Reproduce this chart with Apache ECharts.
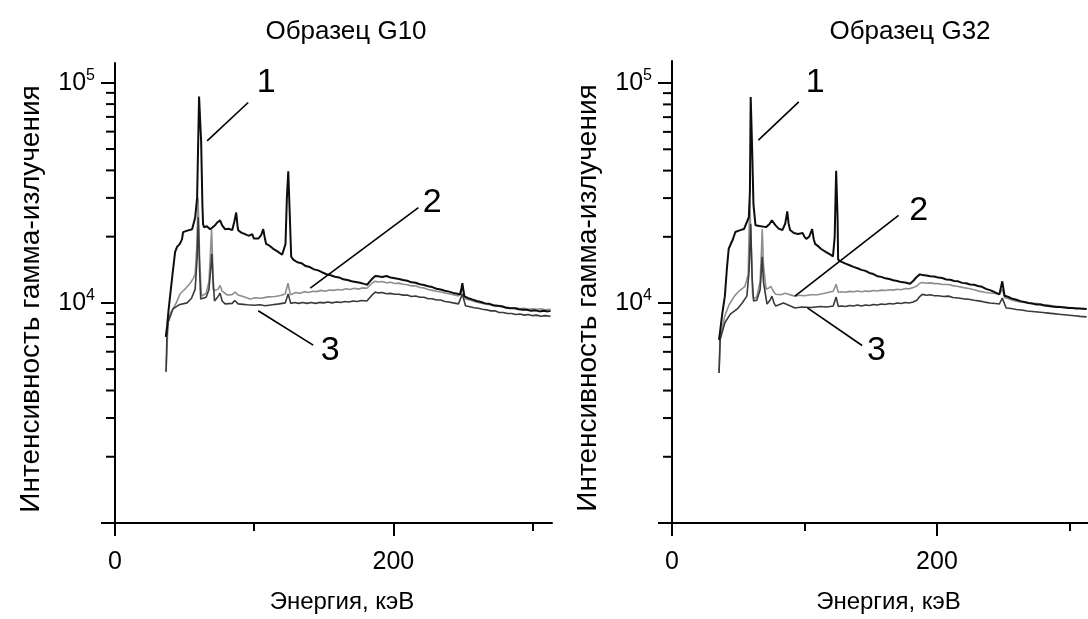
<!DOCTYPE html>
<html><head><meta charset="utf-8">
<script src="https://cdn.jsdelivr.net/npm/echarts@6/dist/echarts.min.js"></script>
<style>html,body{margin:0;padding:0;background:#fff}#c{width:1088px;height:619px}</style>
</head><body><div id="c"></div>
<script>
// ---- texts ----
const titles = ['Образец G10', 'Образец G32'];
const xName = 'Энергия, кэВ';
const yName = 'Интенсивность гамма-излучения';
const curveNames = ['1', '2', '3'];

// ---- axis ticks ----
const xMajorTicks = [0, 200];
const xMinorTicks = [100, 300];
const yMajorTicks = [1000, 10000, 100000];
const yLabelTicks = [10000, 100000];
const yMinorTicks = [2000, 3000, 4000, 5000, 6000, 7000, 8000, 9000,
  20000, 30000, 40000, 50000, 60000, 70000, 80000, 90000];
const xRange = [0, 314];
const yRangeG10 = [1000, 123000];
const yRangeG32 = [1000, 126000];

// ---- G10 spectra [energy keV, intensity] ----
const g10_1 = [[36.5,7000],[37.4,7800],[38.5,9300],[39.6,10750],[41.5,13800],[43.2,17060],[44.6,17970],[46.5,18500],[48.2,19500],[48.9,20970],[52,21300],[55.4,21620],[57.6,24460],[59.0,30000],[60.4,86600],[61.9,54000],[62.8,28000],[63.3,22770],[64.0,22060],[66,22300],[68.3,21620],[70,22000],[71.9,22530],[73.5,23200],[75.5,23710],[77,22500],[79.1,21620],[82,21700],[84.2,21400],[85.8,23500],[87.1,25750],[88.0,22500],[88.5,21400],[91,20800],[93,20600],[95.0,20320],[96.5,20200],[98.6,20530],[99.8,19600],[100.7,19310],[103,19600],[105,20300],[106.5,21620],[107.8,19500],[108.6,18530],[111,18200],[113.7,17600],[117,17100],[120.1,16550],[121.5,16400],[122.5,18500],[123.5,30000],[124.5,39650],[125.5,26000],[126.6,16210],[128.1,15720],
  [131,15300],[134,15150],[137,14700],[140,14550],[143,14200],[146,14050],[149,13750],[152,13500],[155,13350],[158,13150],[161,13050],[164,12800],[167,12700],[170,12550],[173,12450],[176,12350],[179,12200],[181.3,12100],[183,12500],[185,12900],[187,13250],[189,13200],[192,13100],[195,13250],[198,13050],[201,12950],[204,12850],[207,12700],[210,12600],[213,12400],[216,12350],[219,12150],[222,12050],[225,11900],[228,11800],[231,11600],[234,11500],[237,11350],[240,11250],[243,11100],[246,11000],[248.2,10900],[249.6,12280],[251,10700],[254,10500],[257,10350],[260,10200],[263,10100],[266,9950],[269,9900],[272,9750],[275,9700],[278,9650],[281,9500],[284,9450],[287,9450],[290,9350],[293,9300],[296,9300],[299,9200],[302,9250],[305,9150],[308,9200],[311,9150],[313,9200]];
const g10_2 = [[36.7,4870],[37.5,6500],[38.1,8200],[40,9000],[41.7,9400],[44,10000],[46.8,11000],[50,11500],[54,12280],[56.5,13000],[57.6,13610],[58.8,18000],[59.7,30000],[60.8,16000],[62.0,11000],[62.6,10750],[65.5,11080],[67.5,12500],[68.6,17000],[69.4,21620],[70.2,15000],[70.5,11550],[72,11400],[74.1,11550],[75.5,12000],[77,11300],[80.6,10860],[84,10900],[86.3,11200],[88,10900],[92,10700],[97.1,10420],[101,10550],[105,10500],[110,10650],[115,10700],[119,10800],[122.3,10970],[124.3,12280],[126,10900],[127.3,11080],
  [130,11150],[133,11050],[136,11250],[139,11150],[142,11300],[145,11250],[148,11400],[151,11300],[154,11450],[157,11400],[160,11500],[163,11450],[166,11600],[169,11500],[172,11650],[175,11550],[178,11700],[181,11650],[183,12000],[185,12350],[187,12550],[189,12450],[192,12500],[195,12350],[198,12400],[201,12250],[204,12300],[207,12150],[210,12100],[213,11950],[216,11950],[219,11750],[222,11700],[225,11500],[228,11400],[231,11300],[234,11200],[237,11100],[240,11000],[243,10900],[246.8,10750],[249.5,11910],[251.8,10420],[255,10300],[258,10150],[261,10050],[264,9950],[267,9850],[270,9800],[273,9650],[276,9650],[279,9550],[282,9550],[285,9450],[288,9500],[291,9400],[294,9450],[297,9350],[300,9400],[303,9350],[306,9400],[309,9300],[313,9350]];
const g10_3 = [[36.7,4870],[37.3,7000],[38.1,8140],[40,8800],[41.7,9400],[46,9800],[51.8,10000],[55,10500],[57.6,11550],[59.0,16000],[59.8,24460],[60.8,14000],[61.6,10420],[65.5,10600],[67.5,11500],[68.7,14000],[69.6,16720],[70.4,13000],[71.5,10210],[74.1,10700],[75.5,11080],[77,10200],[79.1,9900],[84.2,9950],[86,10250],[88.5,9900],[92,9850],[95,9800],[100,9750],[104,9800],[108,9700],[113,9800],[118,9900],[122.3,10000],[124.4,10970],[126.3,9950],
  [129,10050],[132,9950],[135,10050],[138,9950],[141,10050],[144,9950],[147,10050],[150,10000],[153,10100],[156,10000],[159,10100],[162,10050],[165,10150],[168,10100],[171,10200],[174,10150],[177,10250],[181,10200],[183,10550],[185,10900],[187,11200],[189,11100],[192,11150],[195,11000],[198,11050],[201,10950],[204,10950],[207,10850],[210,10850],[213,10700],[216,10750],[219,10600],[222,10600],[225,10450],[228,10450],[231,10300],[234,10300],[237,10150],[240,10100],[243,10000],[246.8,9900],[249.6,10970],[251.8,9700],[255,9600],[258,9500],[261,9450],[264,9350],[267,9300],[270,9200],[273,9200],[276,9050],[279,9050],[282,8950],[285,8950],[288,8850],[291,8900],[294,8800],[297,8850],[300,8750],[303,8800],[306,8700],[309,8750],[313,8700]];

// ---- G32 spectra [energy keV, intensity] ----
const g32_1 = [[35.5,6800],[36.2,7340],[38,9000],[39.9,10750],[41.5,14500],[42.8,17650],[44.2,18010],[46,19500],[47.8,21030],[51,21400],[54.3,21690],[58.0,24550],[58.8,32000],[59.4,86500],[60.5,50000],[61.5,28000],[63,22600],[66,22400],[71,22140],[73.5,22800],[75.4,23800],[78,22600],[80.5,21800],[83.3,21470],[85.5,23000],[87,26120],[88,23000],[89.1,21470],[92,20800],[95,20600],[98.6,20810],[100,20000],[101.4,19560],[103.5,20000],[105.8,21690],[107,19500],[108,18580],[110,18200],[112.3,17650],[116,17100],[119.6,16590],[121.5,16300],[122.8,20000],[123.9,39900],[125,24000],[125.4,15750],
  [128,15400],[131,15100],[134,14850],[137,14600],[140,14400],[143,14150],[146,14000],[149,13700],[152,13550],[155,13250],[158,13150],[161,12950],[164,12850],[167,12700],[170,12600],[173,12450],[176,12400],[179.7,12250],[182,12600],[184.5,13100],[187,13500],[189,13400],[192,13350],[195,13250],[198,13200],[201,13050],[204,13000],[207,12800],[210,12750],[213,12600],[216,12550],[219,12350],[222,12300],[225,12150],[228,12100],[231,11950],[234,11850],[237,11600],[240,11450],[243,11250],[247.1,10950],[249.3,12550],[251,10800],[254,10650],[257,10450],[260,10350],[263,10200],[266,10100],[269,10000],[272,9950],[275,9850],[278,9850],[281,9750],[284,9700],[287,9650],[290,9600],[293,9600],[296,9550],[299,9500],[302,9500],[305,9450],[308,9450],[313,9400]];
const g32_2 = [[35.5,4810],[36.5,7000],[39.9,8740],[43,9800],[47.1,10750],[51,11400],[55.1,11920],[57.5,13500],[58.7,29270],[59.8,18000],[60.8,11000],[61.6,10420],[64,10700],[66.5,12500],[67.5,17000],[68.1,21690],[69,15000],[71,11560],[73,11700],[74.6,11920],[76.5,11300],[78.3,10970],[82,10900],[85.5,11090],[88,10950],[92.8,10750],[96,10850],[100,10800],[105,10900],[110,10900],[116,11100],[121.7,11320],[123.9,12170],[125.5,11200],
  [128,11250],[131,11200],[134,11300],[137,11250],[140,11350],[143,11250],[146,11350],[149,11300],[152,11400],[155,11350],[158,11450],[161,11400],[164,11500],[167,11450],[170,11550],[173,11500],[176,11650],[179,11600],[182,11750],[184.8,11950],[187,12300],[189,12400],[192,12300],[195,12350],[198,12250],[201,12250],[204,12150],[208.7,12150],[212,12000],[216,11900],[220,11750],[224,11650],[228,11500],[232.6,11300],[236,11200],[240,11100],[244,11050],[247.1,10950],[249.3,11560],[251,10600],[254,10450],[257,10300],[260,10200],[264,10100],[268,10050],[272,9950],[276,9950],[280,9850],[284,9800],[288,9700],[292,9650],[296,9600],[300,9550],[304,9500],[308,9450],[313,9400]];
const g32_3 = [[35.5,4810],[36.3,6800],[39.9,8135],[44,8900],[49.3,9400],[53,10000],[56.5,10750],[58.2,14000],[59.4,22850],[60.5,13000],[61.6,10210],[64,10300],[66.5,11500],[67.4,14000],[68.1,16240],[69,12500],[71.7,9900],[74,10300],[75.4,10750],[77,10000],[78.3,9690],[84.1,10000],[86,9900],[92.8,9500],[98,9600],[105,9550],[112,9650],[117,9600],[121.7,9690],[123.9,10640],[125.5,9650],
  [128,9700],[131,9650],[134,9750],[137,9700],[140,9800],[143,9700],[146,9800],[149,9750],[152,9850],[155,9800],[158,9900],[161,9850],[164,9950],[167,9900],[170,10000],[173,9950],[176,10050],[179,10000],[182,10100],[184.8,10300],[187,10700],[189,10950],[192,10850],[195,10900],[198,10800],[201,10800],[205,10700],[208.7,10750],[212,10600],[216,10550],[220,10450],[224,10400],[228,10300],[232.6,10200],[236,10100],[240,10000],[244,9950],[247.1,9900],[249.3,10530],[252.2,9500],[256,9450],[260,9350],[264,9300],[268,9200],[272,9150],[276,9100],[280,9050],[284,9000],[288,8950],[292,8900],[296,8850],[300,8800],[304,8750],[308,8700],[313,8650]];

// ---- annotation anchors (data coords) ----
const g10LabelPos = [[108.6,100000],[228,28500],[154.7,6040]];
const g10Leaders = [[[95.7,81400],[66.2,54500]],[[218,27100],[140.3,11670]],[[142.4,6430],[102.9,9210]]];
const g32LabelPos = [[108,100000],[186.2,26400],[154.3,6090]];
const g32Leaders = [[[95.7,82200],[65.2,55000]],[[171,25060],[92.8,10750]],[[143.5,6410],[102.2,9500]]];

const FONT = 'Liberation Sans, Arial, Helvetica, sans-serif';
const grids = [
  {left:115, top:63, width:437, height:469},
  {left:672, top:61, width:433, height:469}
];
const titleCenters = [341, 905];
const yRanges = [yRangeG10, yRangeG32];
const panels = [[g10_2, g10_3, g10_1], [g32_2, g32_3, g32_1]];
const labelPos = [g10LabelPos, g32LabelPos];
const leaders = [g10Leaders, g32Leaders];
const curveColors = ['#8e8e8e', '#3a3a3a', '#0d0d0d'];
const curveWidths = [1.6, 1.6, 2];
const curveIdx = [1, 2, 0];

const xAxis = [], yAxis = [], series = [], title = [];
for (let g = 0; g < 2; g++) {
  title.push({text: titles[g], left: titleCenters[g], top: 14, textAlign: 'center',
    textStyle: {fontFamily: FONT, fontSize: 26, fontWeight: 'normal', color: '#000'}});
  xAxis.push({
    type:'value', gridIndex:g, min:xRange[0], max:xRange[1], position:'bottom',
    axisLine:{show:true, onZero:false, lineStyle:{color:'#000', width:2}},
    axisTick:{show:true, length:13, lineStyle:{color:'#000', width:2}, customValues:xMajorTicks},
    axisLabel:{show:true, margin:27, customValues:xMajorTicks, fontFamily:FONT, fontSize:25, color:'#000'},
    splitLine:{show:false},
    name:xName, nameLocation:'middle', nameGap:67,
    nameTextStyle:{fontFamily:FONT, fontSize:24, color:'#000', padding:[0,0,0,17]}
  });
  xAxis.push({
    type:'value', gridIndex:g, min:xRange[0], max:xRange[1], position:'bottom',
    axisLine:{show:false},
    axisTick:{show:true, length:8, lineStyle:{color:'#000', width:2}, customValues:xMinorTicks},
    axisLabel:{show:false}, splitLine:{show:false}
  });
  yAxis.push({
    type:'log', logBase:10, gridIndex:g, min:yRanges[g][0], max:yRanges[g][1], position:'left',
    axisLine:{show:true, onZero:false, lineStyle:{color:'#000', width:2}},
    axisTick:{show:true, length:14, lineStyle:{color:'#000', width:2}, customValues:yMajorTicks},
    axisLabel:{show:true, margin:20, customValues:yLabelTicks,
      formatter: v => '{b|10}{s|' + Math.round(Math.log10(v)) + '}',
      rich:{
        b:{fontFamily:FONT, fontSize:25, lineHeight:30, color:'#000'},
        s:{fontFamily:FONT, fontSize:16, lineHeight:16, verticalAlign:'top', color:'#000'}
      }},
    splitLine:{show:false},
    name:yName, nameLocation:'middle', nameGap:70,
    nameTextStyle:{fontFamily:FONT, fontSize:28, color:'#000', padding:[0,12,0,0]}
  });
  // minor log ticks on the y axis, placed through the axis scale
  series.push({
    type:'custom', xAxisIndex:g*2, yAxisIndex:g, silent:true, clip:false, z:10,
    data: yMinorTicks.map(v => [xRange[0], v]),
    renderItem: (params, api) => {
      const p = api.coord([api.value(0), api.value(1)]);
      return {type:'line', shape:{x1:p[0]-9, y1:p[1], x2:p[0], y2:p[1]},
        style:{stroke:'#000', lineWidth:2}};
    }
  });
  panels[g].forEach((d, k) => {
    const s = {
      type:'line', name: curveNames[curveIdx[k]], xAxisIndex: g*2, yAxisIndex: g, data: d,
      showSymbol:false, symbol:'none', smooth:false,
      lineStyle:{color: curveColors[k], width: curveWidths[k]},
      emphasis:{disabled:true}, silent:true, z: 2 + k
    };
    if (k === 2) {
      s.markLine = {
        silent:true, symbol:['none','none'], animation:false,
        lineStyle:{color:'#000', width:1.6, type:'solid'},
        label:{show:false},
        data: leaders[g].map(p => [{coord:p[0]}, {coord:p[1]}])
      };
      s.markPoint = {
        silent:true, symbol:'circle', symbolSize:1, animation:false,
        itemStyle:{color:'rgba(0,0,0,0)'},
        label:{show:true, position:'inside', fontFamily:FONT, fontSize:34, color:'#000',
          formatter: p => p.name},
        data: labelPos[g].map((p, i) => ({name: curveNames[i], coord: p}))
      };
    }
    series.push(s);
  });
}

const chart = echarts.init(document.getElementById('c'), null, {renderer:'canvas'});
chart.setOption({
  backgroundColor:'#ffffff', animation:false,
  title, grid: grids, xAxis, yAxis, series
});
</script></body></html>
